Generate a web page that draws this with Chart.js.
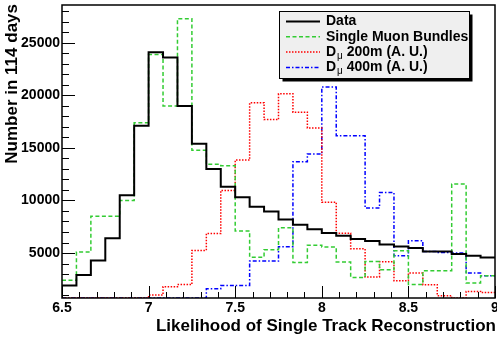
<!DOCTYPE html>
<html><head><meta charset="utf-8">
<script src="https://cdn.jsdelivr.net/npm/chart.js@4"></script>
<style>html,body{margin:0;padding:0;background:#fff;}canvas{display:block;}</style>
</head><body>
<canvas id="c" width="497" height="339"></canvas>
<script>
// ---- binning / axes ----
const xMin = 6.5, xMax = 9, nBins = 30;
const yMin = 720, yMax = 28600;
const xTickValues = [6.5, 7, 7.5, 8, 8.5, 9];
const yTickValues = [5000, 10000, 15000, 20000, 25000];
const xTitle = 'Likelihood of Single Track Reconstruction';
const yTitle = 'Number in 114 days';
const seriesNames = ['Data', 'Single Muon Bundles', 'D_μ 200m (A. U.)', 'D_μ 400m (A. U.)'];

// ---- series (one value per bin) ----
const dataCounts = [1900, 2900, 4300, 6400, 10500, 17100, 24100, 23600, 19000, 15400,
  13000, 11300, 10300, 9400, 8950, 8200, 7700, 7250, 6900, 6650,
  6330, 6150, 5800, 5630, 5480, 5150, 5150, 4900, 4750, 4580];
const singleMuon = [2400, 5100, 8500, 8500, 10000, 17400, 23900, 19000, 27300, 14780,
  13450, 13300, 7100, 4600, 5300, 7400, 4100, 5750, 5570, 4150,
  2680, 4200, 3400, 5220, 2000, 3320, 3320, 11560, 2150, 2840];
const dmu200 = [0, 0, 0, 0, 0, 0, 1000, 1800, 2000, 5250,
  6850, 10950, 13850, 19300, 17700, 20150, 18400, 16900, 9830, 6870,
  5400, 2730, 4170, 2370, 3100, 1990, 940, 700, 1350, 1250];
const dmu400 = [0, 0, 0, 0, 0, 0, 0, 0, 0, 0,
  1600, 1920, 1900, 4230, 4230, 5600, 13680, 14420, 20800, 16170,
  16170, 9280, 10760, 4740, 6170, 5150, 5060, 5000, 3100, 2840];

const FONT = '"Liberation Sans", Arial, Helvetica, sans-serif';
const binW = (xMax - xMin) / nBins;
function histPoints(vals) {
  const pts = vals.map((v, i) => ({x: xMin + i * binW, y: Math.max(v, yMin)}));
  pts.push({x: xMax, y: Math.max(vals[vals.length - 1], yMin)});
  return pts;
}
function ds(label, vals, color, width, dash) {
  return {label, data: histPoints(vals), borderColor: color, borderWidth: width,
    borderDash: dash, stepped: 'before', pointRadius: 0, fill: false, tension: 0};
}
function noPad(s) { s.paddingLeft = 0; s.paddingRight = 0; s.paddingTop = 0; s.paddingBottom = 0; }

const rootStyle = {
  id: 'rootStyle',
  afterDatasetsDraw(chart) {
    const {ctx, chartArea: a, scales: {x, y}} = chart;
    ctx.save();
    ctx.strokeStyle = '#000';
    ctx.lineWidth = 1;
    for (let v = 1000; v <= yMax; v += 1000) {
      if (v < yMin) continue;
      const py = Math.round(y.getPixelForValue(v)) + 0.5;
      const len = yTickValues.includes(v) ? 13 : 7;
      ctx.beginPath(); ctx.moveTo(a.left, py); ctx.lineTo(a.left + len, py); ctx.stroke();
    }
    for (let i = 0; i <= 25; i++) {
      const v = xMin + i * 0.1;
      const px = Math.round(x.getPixelForValue(v)) + 0.5;
      const len = i % 5 === 0 ? 12 : 6;
      ctx.beginPath(); ctx.moveTo(px, a.bottom); ctx.lineTo(px, a.bottom - len); ctx.stroke();
    }
    ctx.lineWidth = 1.5;
    ctx.strokeRect(a.left, a.top, a.right - a.left, a.bottom - a.top);
    ctx.restore();
  },
  afterDraw(chart) {
    const {ctx} = chart;
    ctx.save();
    ctx.fillStyle = '#000';
    ctx.font = 'bold 17px ' + FONT;
    ctx.textAlign = 'right'; ctx.textBaseline = 'alphabetic';
    ctx.fillText(xTitle, 496, 331);
    ctx.translate(17, 4); ctx.rotate(-Math.PI / 2);
    ctx.fillText(yTitle, 0, 0);
    ctx.restore();

    // legend
    ctx.save();
    const L = 279.5, T = 11.5, W = 190, H = 67;
    ctx.fillStyle = '#000';
    ctx.fillRect(L + 3, T + 3, W, H);
    ctx.fillStyle = '#efefef';
    ctx.fillRect(L, T, W, H);
    ctx.strokeStyle = '#000'; ctx.lineWidth = 1;
    ctx.strokeRect(L, T, W, H);
    const rows = [21.5, 36.8, 52.1, 67.4];
    chart.data.datasets.forEach((d, i) => {
      const ry = rows[i];
      ctx.strokeStyle = d.borderColor; ctx.lineWidth = d.borderWidth;
      ctx.setLineDash(d.borderDash || []);
      ctx.beginPath(); ctx.moveTo(286, ry); ctx.lineTo(320, ry); ctx.stroke();
      ctx.setLineDash([]);
      ctx.fillStyle = '#000'; ctx.textAlign = 'left'; ctx.textBaseline = 'middle';
      const name = seriesNames[i];
      let tx = 326;
      if (name.includes('_')) {
        const [main, rest] = name.split('_');
        const sub = rest[0], tail = rest.slice(1);
        ctx.font = 'bold 14px ' + FONT;
        ctx.fillText(main, tx, ry); tx += ctx.measureText(main).width + 1;
        ctx.font = '10px ' + FONT;
        ctx.fillText(sub, tx, ry + 4); tx += ctx.measureText(sub).width;
        ctx.font = 'bold 14px ' + FONT;
        ctx.fillText(tail, tx, ry);
      } else {
        ctx.font = 'bold 14px ' + FONT;
        ctx.fillText(name, tx, ry);
      }
    });
    ctx.restore();
  }
};

new Chart(document.getElementById('c'), {
  type: 'line',
  data: {datasets: [
    ds(seriesNames[0], dataCounts, '#000000', 2, []),
    ds(seriesNames[1], singleMuon, '#33cc33', 1.5, [4, 2.5]),
    ds(seriesNames[2], dmu200, '#ff0000', 1.5, [1.5, 1.5]),
    ds(seriesNames[3], dmu400, '#0000ff', 1.5, [4, 2, 1.5, 2])
  ]},
  options: {
    responsive: false, animation: false,
    layout: {padding: {left: 0, right: 2, top: 5, bottom: 0}},
    plugins: {legend: {display: false}, tooltip: {enabled: false}},
    scales: {
      x: {type: 'linear', min: xMin, max: xMax,
        afterBuildTicks: s => { s.ticks = xTickValues.map(v => ({value: v})); },
        afterFit: s => { s.height = 41; noPad(s); },
        grid: {display: false, drawTicks: false},
        border: {display: false},
        ticks: {padding: 2, color: '#000', maxRotation: 0, autoSkip: false,
          font: {family: FONT, size: 14, weight: 'bold'}, callback: v => String(v)}},
      y: {type: 'linear', min: yMin, max: yMax,
        afterBuildTicks: s => { s.ticks = yTickValues.map(v => ({value: v})); },
        afterFit: s => { s.width = 62; noPad(s); },
        grid: {display: false, drawTicks: false},
        border: {display: false},
        ticks: {padding: 2, color: '#000',
          font: {family: FONT, size: 14, weight: 'bold'}, callback: v => String(v)}}
    }
  },
  plugins: [rootStyle]
});
</script>
</body></html>
